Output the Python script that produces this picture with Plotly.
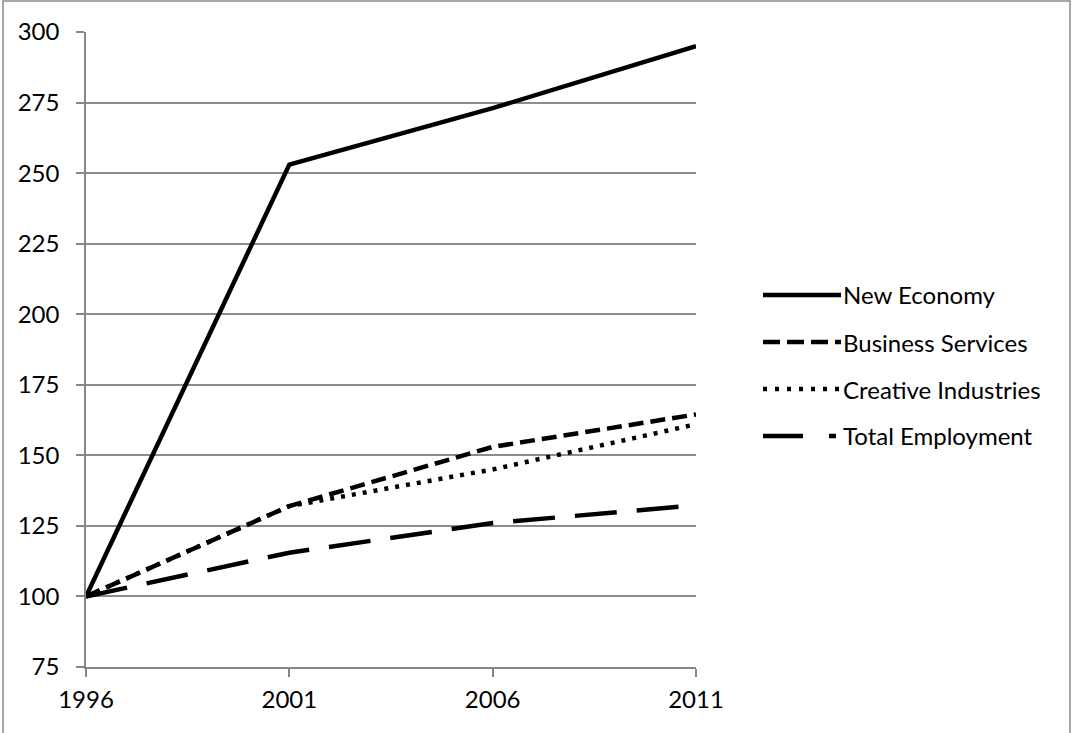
import plotly.graph_objects as go

years = [1996, 2001, 2006, 2011]
series_names = ["New Economy", "Business Services", "Creative Industries", "Total Employment"]
new_economy = [100, 253, 273, 295]
business_services = [100, 132, 153, 164.5]
creative_industries = [100, 132, 145, 161]
total_employment = [100, 115.5, 126, 132.3]
y_ticks = [75, 100, 125, 150, 175, 200, 225, 250, 275, 300]

values = [new_economy, business_services, creative_industries, total_employment]
dashes = ["solid", "15px,7px", "4px,7px", "42px,20px"]
legend_dashes = ["solid", "17px,7px", "4px,8px", "40px,26px"]

W, H = 1072, 733
L, R, T, B = 86, 376, 32, 66
pw, ph = W - L - R, H - T - B
FONT = "Lato"
FS = 24

fig = go.Figure()
for name, vals, d in zip(series_names, values, dashes):
    fig.add_trace(go.Scatter(
        x=years, y=vals, name=name, mode="lines",
        line=dict(color="black", width=4.5, dash=d),
        showlegend=False,
    ))

def px_x(p):
    return (p - L) / pw

def px_y(p):
    return (H - B - p) / ph

shapes = []
annotations = []
# custom legend
for i, (name, d) in enumerate(zip(series_names, legend_dashes)):
    yc = 295 + 47 * i
    shapes.append(dict(type="line", xref="paper", yref="paper",
                       x0=px_x(763), x1=px_x(841 if i != 3 else 836), y0=px_y(yc), y1=px_y(yc),
                       line=dict(color="black", width=4.5, dash=d)))
    annotations.append(dict(xref="paper", yref="paper", x=px_x(841), y=px_y(yc),
                            text=name, showarrow=False, xanchor="left", yanchor="middle",
                            font=dict(family=FONT, size=FS, color="black")))
# outer border
shapes.append(dict(type="rect", xref="paper", yref="paper",
                   x0=px_x(3), x1=px_x(1070), y0=px_y(745), y1=px_y(1),
                   line=dict(color="#8a8a8a", width=1.5), fillcolor="rgba(0,0,0,0)", layer="below"))

fig.update_layout(
    width=W, height=H,
    margin=dict(l=L, r=R, t=T, b=B),
    paper_bgcolor="white", plot_bgcolor="white",
    font=dict(family=FONT, size=FS, color="black"),
    shapes=shapes, annotations=annotations,
    hovermode=False,
    xaxis=dict(range=[1996, 2011], tickvals=years, ticktext=[str(y) for y in years],
               showgrid=False, zeroline=False, showline=True, linecolor="#868686", linewidth=1.5,
               ticks="outside", ticklen=8, tickcolor="#868686", tickwidth=1.5,
               ticklabelstandoff=2,
               tickfont=dict(family=FONT, size=FS)),
    yaxis=dict(range=[75, 300], tickvals=y_ticks, showgrid=True, gridcolor="#8c8c8c", gridwidth=1.5,
               zeroline=False, showline=True, linecolor="#868686", linewidth=1.5,
               ticks="outside", ticklen=8, tickcolor="#868686", tickwidth=1.5,
               ticklabelstandoff=12,
               tickfont=dict(family=FONT, size=FS)),
)

fig.write_html("out.html", config={"displayModeBar": False},
               post_script="document.body.style.margin='0px';document.body.style.overflow='hidden';")
